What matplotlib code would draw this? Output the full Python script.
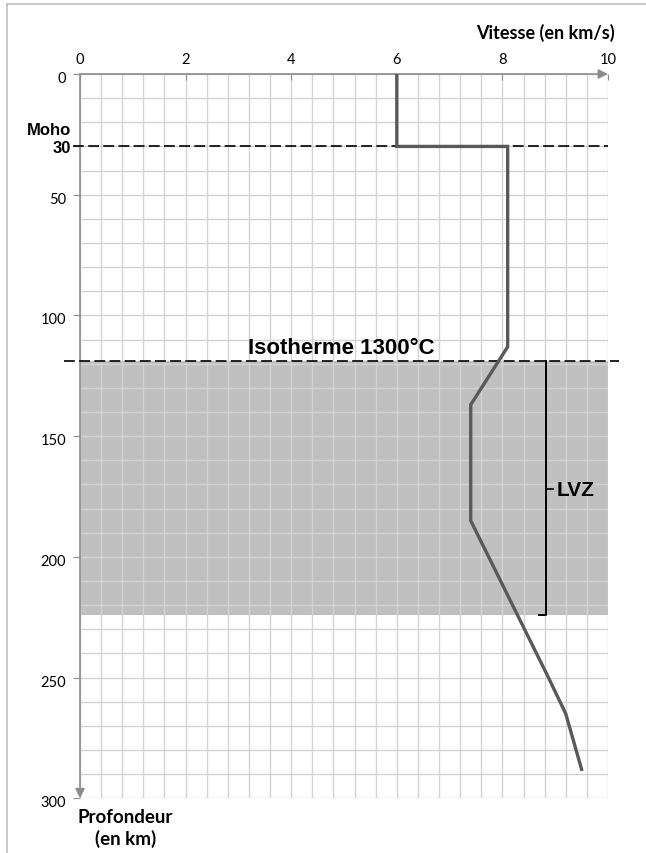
import matplotlib.pyplot as plt
import numpy as np
from matplotlib.lines import Line2D
from matplotlib import transforms

# profil de vitesse des ondes P
vitesse = [6.0, 6.0, 8.1, 8.1, 7.4, 7.4, 8.85, 9.2, 9.5]
profondeur = [0, 30, 30, 113, 137, 185, 249, 265, 288]

x_ticks = [0, 2, 4, 6, 8, 10]
y_ticks = [0, 30, 50, 100, 150, 200, 250, 300]
y_labels = ['0', '', '50', '100', '150', '200', '250', '300']

moho = 30
isotherme = 119
lvz_bas = 224

W, H = 646, 854
fig = plt.figure(figsize=(W / 100, H / 100), dpi=100)
ax = fig.add_axes([80 / W, 1 - 799.3 / H, 528 / W, (799.3 - 75) / H])

ax.set_xlim(0, 10)
ax.set_ylim(300, 0)

# quadrillage
ax.set_xticks(np.arange(0, 10.01, 0.4), minor=True)
ax.set_yticks(np.arange(0, 301, 10), minor=True)
ax.grid(which='both', color='#d3d3d3', lw=1.0)
ax.tick_params(which='minor', length=0)

ax.xaxis.tick_top()
ax.set_xticks(x_ticks)
ax.set_xticklabels([str(t) for t in x_ticks], family='Lato', fontsize=10.5)
ax.tick_params(axis='x', which='major', direction='in', length=4, pad=6, color='#8c8c8c')
ax.set_yticks(y_ticks)
ax.set_yticklabels(y_labels, family='Lato', fontsize=10.5)
ax.tick_params(axis='y', which='major', direction='out', length=5, pad=5, color='#8c8c8c')
off = transforms.ScaledTranslation(0, -2.5 / 100, fig.dpi_scale_trans)
for lab in ax.get_yticklabels():
    lab.set_transform(lab.get_transform() + off)

for s in ax.spines.values():
    s.set_visible(False)

# axes avec fleches
arrow = dict(arrowstyle='-|>', color='#8c8c8c', lw=1.2, mutation_scale=14,
             shrinkA=0, shrinkB=0)
ax.annotate('', xy=(1, 1), xytext=(0, 1), xycoords='axes fraction', arrowprops=arrow)
ax.annotate('', xy=(0, 0), xytext=(0, 1), xycoords='axes fraction', arrowprops=arrow)

# zone LVZ
ax.axhspan(isotherme, lvz_bas, color='#c0c0c0', zorder=0.5, lw=0)
ax.set_axisbelow(False)

# lignes pointillees
ax.plot([-0.13, 10], [moho, moho], color='black', lw=1.2, dashes=(6.5, 2.6), clip_on=False, zorder=3)
ax.plot([-0.3, 10.2], [isotherme, isotherme], color='black', lw=1.2, dashes=(6.5, 2.6), clip_on=False, zorder=3)

ax.plot(vitesse, profondeur, color='#595959', lw=2.4, zorder=4, solid_joinstyle='miter')

# accolade LVZ
xb = 8.83
ax.plot([8.7, xb, xb], [lvz_bas, lvz_bas, isotherme], color='black', lw=1.4, zorder=5)
ax.plot([xb, 8.96], [172, 172], color='black', lw=1.2, zorder=5)
ax.text(9.02, 172, 'LVZ', family='Liberation Sans', weight='bold', fontsize=15, va='center', ha='left')

ax.text(3.19, 115.5, 'Isotherme 1300°C', family='Liberation Sans', weight='bold', fontsize=16,
        va='baseline', ha='left')

ax.text(-0.17, 23, 'Moho', family='Liberation Sans', weight='bold', fontsize=12,
        ha='right', va='center', clip_on=False)
ax.text(-0.17, 30.5, '30', family='Liberation Sans', weight='bold', fontsize=12,
        ha='right', va='center', clip_on=False)

ax.text(10.13, -17.4, 'Vitesse (en km/s)', family='Lato', weight='bold', fontsize=13,
        ha='right', va='center', clip_on=False)
ax.text(0.86, 312, 'Profondeur\n(en km)', family='Lato', weight='bold', fontsize=13.5,
        ha='center', va='center', multialignment='center', linespacing=1.25, clip_on=False)

# cadre
fig.add_artist(Line2D([7 / W, 1], [1 - 4.5 / H, 1 - 4.5 / H], color='#bfbfbf', lw=1.2))
fig.add_artist(Line2D([7.3 / W, 7.3 / W], [0, 1 - 4.5 / H], color='#bfbfbf', lw=1.2))

fig.savefig('out.png', dpi=100)
